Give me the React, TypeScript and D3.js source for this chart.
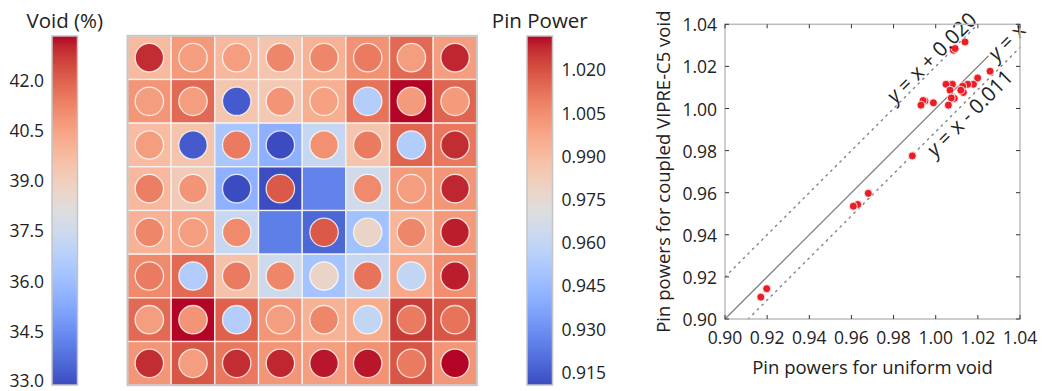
import React from 'react';
import * as d3 from 'd3';

// matplotlib "coolwarm" control points (33 evenly spaced samples)
const COOLWARM: [number, number, number][] = [
  [0.2298057, 0.298717966, 0.753683153],
  [0.26623388, 0.353094838, 0.801466763],
  [0.30386891, 0.406535296, 0.84495867],
  [0.342804478, 0.458757618, 0.883725899],
  [0.38301334, 0.50941904, 0.917387822],
  [0.424369608, 0.558148092, 0.945619588],
  [0.46666708, 0.604562568, 0.968154911],
  [0.509635204, 0.648280772, 0.98478814],
  [0.552953156, 0.688929332, 0.995375608],
  [0.596262162, 0.726149107, 0.999836203],
  [0.639176211, 0.759599947, 0.998151185],
  [0.681291281, 0.788964712, 0.990363227],
  [0.722193294, 0.813952739, 0.976574709],
  [0.761464949, 0.834302879, 0.956945269],
  [0.798691636, 0.849786142, 0.931688648],
  [0.833466556, 0.860207984, 0.901068838],
  [0.865395197, 0.86541021, 0.865395561],
  [0.897787179, 0.848937047, 0.820880546],
  [0.924127593, 0.827384882, 0.774508472],
  [0.944468518, 0.800927443, 0.726736146],
  [0.958852946, 0.769767752, 0.678007945],
  [0.96732803, 0.734132809, 0.628751763],
  [0.969954137, 0.694266682, 0.579375448],
  [0.966811177, 0.650421156, 0.530263762],
  [0.958003065, 0.602842431, 0.481775914],
  [0.943660866, 0.551750968, 0.434243684],
  [0.923944917, 0.49730856, 0.387970225],
  [0.89904617, 0.439559467, 0.343229596],
  [0.869186849, 0.378313092, 0.300267182],
  [0.834620542, 0.312874446, 0.259301199],
  [0.795631745, 0.24128379, 0.220525627],
  [0.752534934, 0.157246067, 0.184115123],
  [0.705673158, 0.01555616, 0.150232812],
];

const coolwarm = d3.piecewise(
  d3.interpolateRgb,
  COOLWARM.map(([r, g, b]) => d3.rgb(r * 255, g * 255, b * 255).formatHex())
);

// Moderator void fraction (%) per pin cell, 8x8 assembly, top row first
const voidRows: number[][] = [
  [39.76, 40.7, 39.8, 39.4, 40.0, 40.9, 41.8, 40.6],
  [40.8, 41.8, 39.3, 39.2, 40.1, 41.6, 43.3, 41.9],
  [39.7, 39.4, 36.3, 35.5, 37.3, 39.4, 41.9, 41.5],
  [39.8, 39.1, 35.5, 32.9, 34.2, 37.6, 40.7, 40.8],
  [40.0, 40.3, 37.3, 34.1, 33.5, 36.1, 39.9, 40.7],
  [41.1, 41.8, 39.5, 37.5, 36.2, 37.3, 40.3, 41.0],
  [41.8, 43.3, 42.0, 40.8, 40.0, 40.2, 42.7, 42.2],
  [40.8, 42.2, 41.5, 40.8, 40.6, 40.9, 42.2, 40.8],
];

// Relative pin power per cell (null = water rod, no fuel pin)
const pinRows: (number | null)[][] = [
  [1.027, 1.0, 1.0, 1.007, 1.007, 1.01, 1.0, 1.028],
  [1.0, 1.0, 0.9144, 1.003, 0.999, 0.9544, 1.001, 1.001],
  [1.0, 0.9144, 1.01, 0.9104, 1.004, 1.01, 0.9536, 1.027],
  [1.009, 1.003, 0.9104, 1.018, null, 1.006, 1.0, 1.028],
  [1.007, 1.0, 1.006, null, 1.018, 0.9775, 1.007, 1.029],
  [1.01, 0.9536, 1.01, 1.007, 0.9775, 1.012, 0.9597, 1.029],
  [1.0, 1.003, 0.9544, 1.0, 1.007, 0.9597, 1.01, 1.012],
  [1.027, 1.0, 1.027, 1.028, 1.0297, 1.0297, 1.01, 1.0316],
];

const voidDomain: [number, number] = [32.88, 43.3];
const pinDomain: [number, number] = [0.9104, 1.0316];
const voidTicks = [33.0, 34.5, 36.0, 37.5, 39.0, 40.5, 42.0];
const pinTicks = [0.915, 0.93, 0.945, 0.96, 0.975, 0.99, 1.005, 1.02];

// Scatter: pin powers for uniform void vs coupled VIPRE-C5 void
const uniformPin = [
  1.0084, 1.0092, 1.0139, 1.027, 1.03, 1.0258, 1.0199, 1.0179, 1.0152, 1.0128,
  1.0131, 1.0119, 1.0079, 1.0049, 1.0068, 1.0079, 1.0088, 1.0074, 1.006, 0.9989,
  0.9949, 0.994, 0.993, 0.9889, 0.968, 0.963, 0.9609, 0.9198, 0.917,
];
const coupledPin = [
  1.0277, 1.0285, 1.0316, 1.0277, 1.0297, 1.0177, 1.0145, 1.0115, 1.0115, 1.0106,
  1.0076, 1.0087, 1.0115, 1.0115, 1.0087, 1.0055, 1.0048, 1.005, 1.0016, 1.0027,
  1.0036, 1.0038, 1.0016, 0.9775, 0.9597, 0.9544, 0.9536, 0.9144, 0.9104,
];
const scatterTicks = [0.9, 0.92, 0.94, 0.96, 0.98, 1.0, 1.02, 1.04];

// Reference lines y = x + offset, with in-line labels
const refLines = [
  { offset: 0.02, dash: '1.5 5', solid: false, label: ' = x + 0.020', at: 1.0011, shift: -10 },
  { offset: 0, dash: null, solid: true, label: ' = x', at: 1.0327, shift: 2 },
  { offset: -0.011, dash: '1.5 5', solid: false, label: ' = x - 0.011', at: 1.0125, shift: 10 },
];

const FONT = '"Open Sans", "Noto Sans", sans-serif';
const TXT = '#222222';

export default function App() {
  const W = 1042;
  const H = 391;

  // heatmap geometry
  const hmX = 127.5;
  const hmY = 35.8;
  const hmSize = 349.4;
  const band = d3.scaleBand<number>().domain(d3.range(8)).range([0, hmSize]);
  const cell = band.bandwidth();

  const voidNorm = d3.scaleLinear().domain(voidDomain).range([0, 1]).clamp(true);
  const pinNorm = d3.scaleLinear().domain(pinDomain).range([0, 1]).clamp(true);

  // colorbars
  const cbTop = 36;
  const cbBottom = 385;
  const voidCbX = 52;
  const pinCbX = 527;
  const cbW = 25.5;
  const voidY = d3.scaleLinear().domain(voidDomain).range([cbBottom, cbTop]);
  const pinY = d3.scaleLinear().domain(pinDomain).range([cbBottom, cbTop]);
  const stops = d3.range(0, 1.0001, 1 / 64);

  // scatter axes
  const sx = d3.scaleLinear().domain([0.9, 1.04]).range([725, 1020]);
  const sy = d3.scaleLinear().domain([0.9, 1.04]).range([319, 24.3]);
  const [x0, x1] = sx.range();
  const [y0, y1] = sy.range();

  const lineSegment = (off: number) => {
    const lo = Math.max(0.9, 0.9 - off);
    const hi = Math.min(1.04, 1.04 - off);
    return d3.line<number>()
      .x((d) => sx(d))
      .y((d) => sy(d + off))([lo, hi]);
  };

  return (
    <svg
      width={W}
      height={H}
      style={{ position: 'absolute', left: 0, top: 0, background: '#fff' }}
      fontFamily={FONT}
    >
      <defs>
        <linearGradient id="cw" x1="0" y1="1" x2="0" y2="0">
          {stops.map((t) => (
            <stop key={t} offset={t} stopColor={coolwarm(t)} />
          ))}
        </linearGradient>
      </defs>

      {/* Void colorbar */}
      <text x={voidCbX + cbW / 2} y={28} textAnchor="middle" fontSize={20.5} fill={TXT}>
        Void (%)
      </text>
      <rect x={voidCbX} y={cbTop} width={cbW} height={cbBottom - cbTop} fill="url(#cw)" stroke="#c4c4c4" strokeWidth={1.5} />
      {voidTicks.map((v) => (
        <text key={v} x={44} y={Math.min(voidY(v), 379.5)} textAnchor="end" dominantBaseline="central" fontSize={17.5} fill={TXT}>
          {v.toFixed(1)}
        </text>
      ))}

      {/* Heatmap: cell background = void, circle = pin power */}
      <g transform={`translate(${hmX},${hmY})`}>
        {voidRows.map((row, r) =>
          row.map((v, c) => (
            <rect
              key={`b${r}-${c}`}
              x={band(c)}
              y={band(r)}
              width={cell}
              height={cell}
              fill={coolwarm(voidNorm(v))}
              stroke="#f2f2f2"
              strokeWidth={1.3}
            />
          ))
        )}
        {pinRows.map((row, r) =>
          row.map((p, c) =>
            p === null ? null : (
              <circle
                key={`p${r}-${c}`}
                cx={band(c)! + cell / 2}
                cy={band(r)! + cell / 2}
                r={cell * 0.325}
                fill={coolwarm(pinNorm(p))}
                stroke="#ffffff"
                strokeOpacity={0.8}
                strokeWidth={1.3}
              />
            )
          )
        )}
        <rect x={0} y={0} width={hmSize} height={hmSize} fill="none" stroke="#c8c8c8" strokeWidth={2} />
      </g>

      {/* Pin power colorbar */}
      <text x={pinCbX + cbW / 2} y={28} textAnchor="middle" fontSize={20.5} fill={TXT}>
        Pin Power
      </text>
      <rect x={pinCbX} y={cbTop} width={cbW} height={cbBottom - cbTop} fill="url(#cw)" stroke="#c4c4c4" strokeWidth={1.5} />
      {pinTicks.map((v) => (
        <text key={v} x={561.5} y={pinY(v)} dominantBaseline="central" fontSize={17.5} fill={TXT}>
          {v.toFixed(3)}
        </text>
      ))}

      {/* Scatter comparison */}
      <g>
        {refLines.map((l) => (
          <path
            key={l.offset}
            d={lineSegment(l.offset) ?? ''}
            fill="none"
            stroke="#808080"
            strokeWidth={l.solid ? 1.3 : 1.4}
            strokeDasharray={l.dash ?? undefined}
            strokeLinecap="round"
          />
        ))}
        {uniformPin.map((u, i) => (
          <circle key={i} cx={sx(u)} cy={sy(coupledPin[i])} r={4} fill="#ee1c24" stroke="#ffffff" strokeWidth={0.8} />
        ))}
        {refLines.map((l) => {
          const px = sx(l.at);
          const py = sy(l.at + l.offset);
          return (
            <g key={`lab${l.offset}`} transform={`translate(${px},${py}) rotate(-45) translate(0,${l.shift})`}>
              {l.solid && <rect x={-23} y={-12} width={46} height={23} fill="#ffffff" />}
              <text textAnchor="middle" dominantBaseline="central" fontSize={20.5} fill={TXT}>
                <tspan fontStyle="italic">y</tspan>
                {l.label}
              </text>
            </g>
          );
        })}
        {/* spines */}
        <rect x={x0} y={y1} width={x1 - x0} height={y0 - y1} fill="none" stroke="#bdbdbd" strokeWidth={1.5} />
        {scatterTicks.map((t) => (
          <g key={`t${t}`} stroke="#333" strokeWidth={1}>
            <line x1={sx(t)} x2={sx(t)} y1={y0} y2={y0 - 4} />
            <line x1={sx(t)} x2={sx(t)} y1={y1} y2={y1 + 4} />
            <line x1={x0} x2={x0 + 4} y1={sy(t)} y2={sy(t)} />
            <line x1={x1} x2={x1 - 4} y1={sy(t)} y2={sy(t)} />
          </g>
        ))}
        {scatterTicks.map((t) => (
          <text key={`xl${t}`} x={sx(t)} y={337} textAnchor="middle" dominantBaseline="central" fontSize={17.5} fill={TXT}>
            {t.toFixed(2)}
          </text>
        ))}
        {scatterTicks.map((t) => (
          <text key={`yl${t}`} x={717} y={sy(t)} textAnchor="end" dominantBaseline="central" fontSize={17.5} fill={TXT}>
            {t.toFixed(2)}
          </text>
        ))}
        <text x={(x0 + x1) / 2} y={366} textAnchor="middle" dominantBaseline="central" fontSize={18.5} fill={TXT}>
          Pin powers for uniform void
        </text>
        <text
          transform={`translate(662,${(y0 + y1) / 2}) rotate(-90)`}
          textAnchor="middle"
          dominantBaseline="central"
          fontSize={18.5}
          fill={TXT}
        >
          Pin powers for coupled VIPRE-C5 void
        </text>
      </g>
    </svg>
  );
}
